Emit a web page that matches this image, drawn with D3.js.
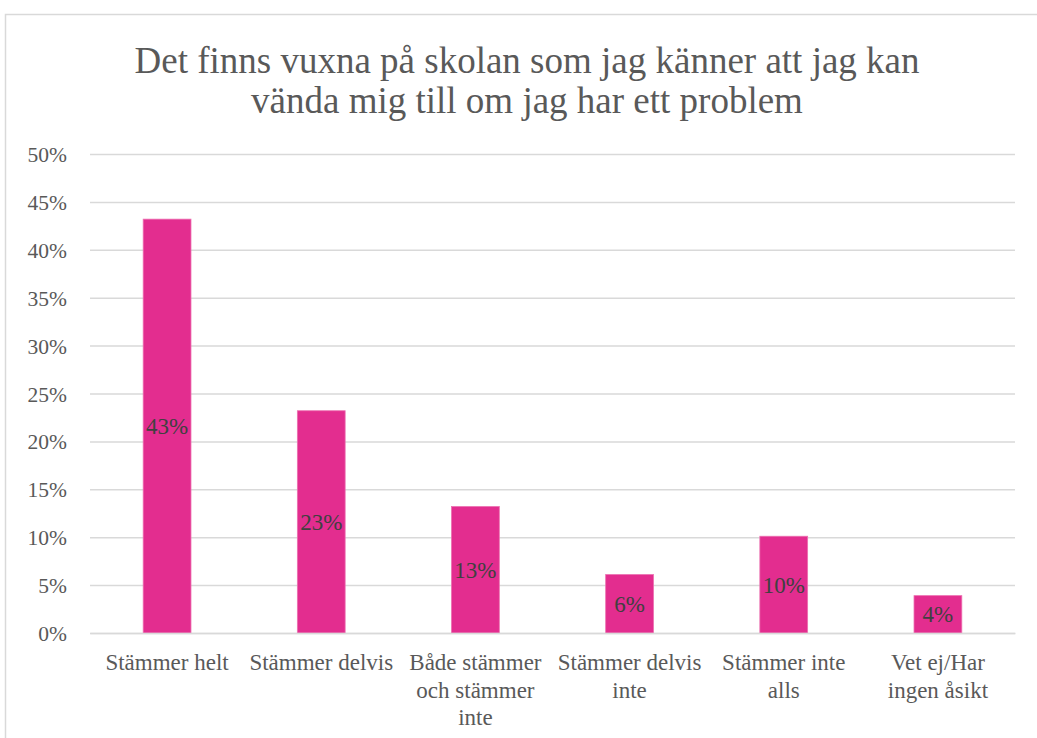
<!DOCTYPE html>
<html>
<head>
<meta charset="utf-8">
<script src="https://cdn.jsdelivr.net/npm/d3@7"></script>
<style>
  body { margin: 0; background: #fff; }
  svg { display: block; }
  svg text { font-family: "Liberation Serif", "Times New Roman", serif; }
</style>
</head>
<body>
<div id="chart"></div>
<script>
// Data
const titleLines = ["Det finns vuxna på skolan som jag känner att jag kan", "vända mig till om jag har ett problem"];
const categories = ["Stämmer helt", "Stämmer delvis", "Både stämmer och stämmer inte", "Stämmer delvis inte", "Stämmer inte alls", "Vet ej/Har ingen åsikt"];
const values = [0.432, 0.232, 0.132, 0.061, 0.101, 0.039];
const yTicks = [0, 0.05, 0.10, 0.15, 0.20, 0.25, 0.30, 0.35, 0.40, 0.45, 0.50];

const W = 1037, H = 738;
const margin = {top: 154, right: 22, bottom: 105, left: 90};
const innerW = W - margin.left - margin.right;
const innerH = H - margin.top - margin.bottom;

const svg = d3.select("#chart").append("svg")
    .attr("width", W).attr("height", H);

// Ramen runt diagrammet
svg.append("rect")
    .attr("x", 5.5).attr("y", 14.5)
    .attr("width", W + 10).attr("height", H + 10)
    .attr("fill", "#fff").attr("stroke", "#d9d9d9").attr("stroke-width", 1.5);

// Titel
svg.append("text")
    .attr("x", 527).attr("y", 73)
    .attr("text-anchor", "middle")
    .style("font-size", "37px").style("fill", "#595959")
    .selectAll("tspan").data(titleLines).join("tspan")
    .attr("x", 527).attr("dy", (d, i) => i === 0 ? 0 : 40)
    .text(d => d);

const g = svg.append("g").attr("transform", `translate(${margin.left},${margin.top})`);

const x = d3.scaleBand().domain(categories).range([0, innerW]).paddingInner(0.69).paddingOuter(0.345);
const y = d3.scaleLinear().domain([0, 0.5]).range([innerH, 0]);

// Rutnät
g.append("g")
    .call(d3.axisLeft(y).tickValues(yTicks).tickSize(-innerW).tickFormat(""))
    .call(s => s.select(".domain").remove())
    .call(s => s.selectAll("line").attr("stroke", "#d9d9d9").attr("stroke-width", 1.5));

// Y-axel etiketter
g.append("g")
    .attr("font-family", null)
    .call(d3.axisLeft(y).tickValues(yTicks).tickSize(0).tickPadding(23).tickFormat(d3.format(".0%")))
    .call(s => s.select(".domain").remove())
    .call(s => s.selectAll("text")
        .attr("dy", "0.35em")
        .style("font-size", "21.5px").attr("fill", "#595959"));

// Staplar
g.selectAll("rect.bar").data(values).join("rect")
    .attr("class", "bar")
    .attr("x", (d, i) => x(categories[i]))
    .attr("y", d => y(d))
    .attr("width", x.bandwidth())
    .attr("height", d => innerH - y(d))
    .attr("fill", "#e32d8f")
    .attr("stroke", "#ec6fb0").attr("stroke-width", 0.8);

// Dataetiketter
g.selectAll("text.lbl").data(values).join("text")
    .attr("class", "lbl")
    .attr("x", (d, i) => x(categories[i]) + x.bandwidth() / 2)
    .attr("y", d => (y(d) + innerH) / 2)
    .attr("dy", "0.35em")
    .attr("text-anchor", "middle")
    .style("font-size", "23px").style("fill", "#404040")
    .text(d => d3.format(".0%")(d));

// X-axel
const xAxis = g.append("g")
    .attr("transform", `translate(0,${innerH})`)
    .call(d3.axisBottom(x).tickSize(0).tickPadding(0));
xAxis.attr("font-family", null);
xAxis.select(".domain").attr("stroke", "#d9d9d9").attr("stroke-width", 1.5);
xAxis.selectAll("text")
    .attr("y", 37).attr("dy", 0)
    .style("font-size", "23px").attr("fill", "#595959")
    .call(wrap, 148);

function wrap(texts, width) {
    texts.each(function() {
        const text = d3.select(this);
        const words = text.text().split(/\s+/);
        const yy = +text.attr("y");
        text.text(null);
        let line = [];
        let lineNo = 0;
        let tspan = text.append("tspan").attr("x", 0).attr("y", yy);
        words.forEach(w => {
            line.push(w);
            tspan.text(line.join(" "));
            if (tspan.node().getComputedTextLength() > width && line.length > 1) {
                line.pop();
                tspan.text(line.join(" "));
                line = [w];
                lineNo++;
                tspan = text.append("tspan").attr("x", 0).attr("y", yy + lineNo * 27.5).text(w);
            }
        });
    });
}
</script>
</body>
</html>
